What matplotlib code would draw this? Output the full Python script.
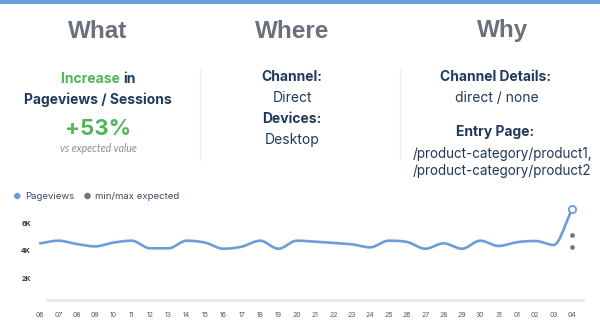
import matplotlib.pyplot as plt
import matplotlib.patches as patches
import matplotlib.transforms as mtransforms
import numpy as np

# daily series
days = ['06', '07', '08', '09', '10', '11', '12', '13', '14', '15', '16', '17', '18', '19', '20',
        '21', '22', '23', '24', '25', '26', '27', '28', '29', '30', '31', '01', '02', '03', '04']
pageviews = [4090, 4280, 4040, 3870, 4140, 4280, 3730, 3730, 4280, 4140, 3700, 3850, 4280, 3700, 4280,
             4210, 4120, 4020, 3800, 4280, 4190, 3700, 4090, 3700, 4280, 3900, 4170, 4260, 3970, 6570]
expected_min = 3850
expected_max = 4690
y_ticks = [2000, 4000, 6000]
y_tick_labels = ['2K', '4K', '6K']

W, H = 600, 330
BLUE = '#6d9dd8'
GREEN = '#4fb65c'
NAVY = '#213a5c'
HEAD_GRAY = '#6b717b'
DOT_GRAY = '#73777d'


def monotone_curve(xs, ys, steps=24):
    """Monotone cubic (Fritsch-Carlson) path through the points, for a smooth line."""
    xs = np.asarray(xs, float)
    ys = np.asarray(ys, float)
    h = np.diff(xs)
    d = np.diff(ys) / h
    m = np.zeros_like(ys)
    m[0], m[-1] = d[0], d[-1]
    for i in range(1, len(ys) - 1):
        m[i] = 0 if d[i - 1] * d[i] <= 0 else (d[i - 1] + d[i]) / 2
    for i in range(len(d)):
        if d[i] == 0:
            m[i] = m[i + 1] = 0
            continue
        a, b = m[i] / d[i], m[i + 1] / d[i]
        s = a * a + b * b
        if s > 9:
            t = 3 / np.sqrt(s)
            m[i], m[i + 1] = t * a * d[i], t * b * d[i]
    px, py = [], []
    for i in range(len(d)):
        t = np.linspace(0, 1, steps, endpoint=(i == len(d) - 1))
        h00 = 2 * t**3 - 3 * t**2 + 1
        h10 = t**3 - 2 * t**2 + t
        h01 = -2 * t**3 + 3 * t**2
        h11 = t**3 - t**2
        px.append(xs[i] + t * h[i])
        py.append(h00 * ys[i] + h10 * h[i] * m[i] + h01 * ys[i + 1] + h11 * h[i] * m[i + 1])
    return np.concatenate(px), np.concatenate(py)


def fx(x):
    return x / W


def fy(y):
    return 1 - y / H


fig = plt.figure(figsize=(6, 3.3), dpi=100, facecolor='white')
r = fig.canvas.get_renderer()

# top accent bar
fig.patches.append(patches.Rectangle((0, fy(3.5)), 1, 3.5 / H, transform=fig.transFigure,
                                     facecolor=BLUE, edgecolor='none'))

# headings
for label, cx in [('What', 98), ('Where', 292), ('Why', 503)]:
    fig.text(fx(cx), fy(37.5), label, ha='center', va='baseline', fontsize=17.5,
             fontweight='bold', color=HEAD_GRAY, family='Liberation Sans')

# column dividers
for cx in (199.5, 399.5):
    fig.add_artist(plt.Line2D([fx(cx), fx(cx)], [fy(70), fy(160)], color='#eeeeee', lw=1))

body = dict(ha='center', va='baseline', fontsize=10, color=NAVY, family='Inter')

# what: two-colour first line, centred as a whole
t_inc = fig.text(0, 0, 'Increase ', ha='right', va='baseline', fontsize=10,
                 color=GREEN, family='Inter', fontweight='bold')
t_in = fig.text(0, 0, 'in', ha='left', va='baseline', fontsize=10,
                color=NAVY, family='Inter', fontweight='bold')
w_inc = t_inc.get_window_extent(r).width
w_in = t_in.get_window_extent(r).width
split = 98 - (w_inc + w_in) / 2 + w_inc
t_inc.set_position((fx(split), fy(82.7)))
t_in.set_position((fx(split), fy(82.7)))

fig.text(fx(98), fy(104), 'Pageviews / Sessions', fontweight='bold', **body)
fig.text(fx(98), fy(134.7), '+53%', ha='center', va='baseline', fontsize=16,
         fontweight='bold', color=GREEN, family='Inter')
fig.text(fx(98), fy(152.5), 'vs expected value', ha='center', va='baseline', fontsize=7.6,
         style='italic', color='#8b9097', family='Lato')

# where
fig.text(fx(292), fy(80.7), 'Channel:', fontweight='bold', **body)
fig.text(fx(292), fy(102.3), 'Direct', **body)
fig.text(fx(292), fy(123.3), 'Devices:', fontweight='bold', **body)
fig.text(fx(292), fy(144), 'Desktop', **body)

# why
fig.text(fx(496), fy(80.7), 'Channel Details:', fontweight='bold', **body)
fig.text(fx(497), fy(102.5), 'direct / none', **body)
fig.text(fx(495), fy(136), 'Entry Page:', fontweight='bold', **body)
small = dict(body, fontsize=9.7)
fig.text(fx(502.5), fy(158), '/product-category/product1,', **small)
fig.text(fx(502.5), fy(175), '/product-category/product2', **small)

# legend
for cx, lab, col in [(17.3, 'Pageviews', BLUE), (87.5, 'min/max expected', DOT_GRAY)]:
    fig.patches.append(patches.Ellipse((fx(cx), fy(196)), 6.5 / W, 6.5 / H,
                                       transform=fig.transFigure, facecolor=col, edgecolor='none'))
    fig.text(fx(cx + 7.5), fy(196), lab, ha='left', va='center', fontsize=6.9,
             color='#3b4a5e', family='Inter')

# chart
ax_left, ax_right, ax_bottom, ax_top = 35, 590, 300, 203
ax = fig.add_axes([fx(ax_left), fy(ax_bottom), (ax_right - ax_left) / W, (ax_bottom - ax_top) / H])
px_per_unit = (572 - 40) / (len(days) - 1)
xmin = -(40 - ax_left) / px_per_unit
xmax = xmin + (ax_right - ax_left) / px_per_unit
ax.set_xlim(xmin, xmax)
ax.set_ylim(0, 7000)
ax.set_facecolor('none')

x = np.arange(len(days))
cx_, cy_ = monotone_curve(x, pageviews)
ax.plot(cx_, cy_, color=BLUE, lw=1.9, solid_capstyle='round', zorder=3)
ax.plot(x[-1], pageviews[-1], 'o', ms=5.2, mfc='white', mec=BLUE, mew=1.3, zorder=4)
ax.plot([x[-1], x[-1]], [expected_max, expected_min], 'o', ls='none', ms=3.4,
        color=DOT_GRAY, mec='none', zorder=4)

# baseline rule
base_l = (46.7 - ax_left) / (ax_right - ax_left)
base_r = (583.3 - ax_left) / (ax_right - ax_left)
ax.axhline(0, base_l, base_r, color='#e6e6e6', lw=1.8, zorder=1, clip_on=False)

ax.set_xticks(x)
ax.set_xticklabels(days)
ax.set_yticks(y_ticks)
ax.set_yticklabels(y_tick_labels)
ax.tick_params(axis='x', length=0, pad=8.5, labelsize=5, labelcolor='#555a60')
ax.tick_params(axis='y', length=0, pad=3, labelsize=5, labelcolor='#2d3440')
for lab in ax.get_xticklabels():
    lab.set_family('Inter')
# y labels sit a little below their value line
shift = mtransforms.ScaledTranslation(0, -0.064, fig.dpi_scale_trans)
for lab in ax.get_yticklabels():
    lab.set_family('Inter')
    lab.set_fontweight('bold')
    lab.set_transform(lab.get_transform() + shift)
for s in ax.spines.values():
    s.set_visible(False)

fig.savefig('out.png', dpi=100, facecolor='white')
